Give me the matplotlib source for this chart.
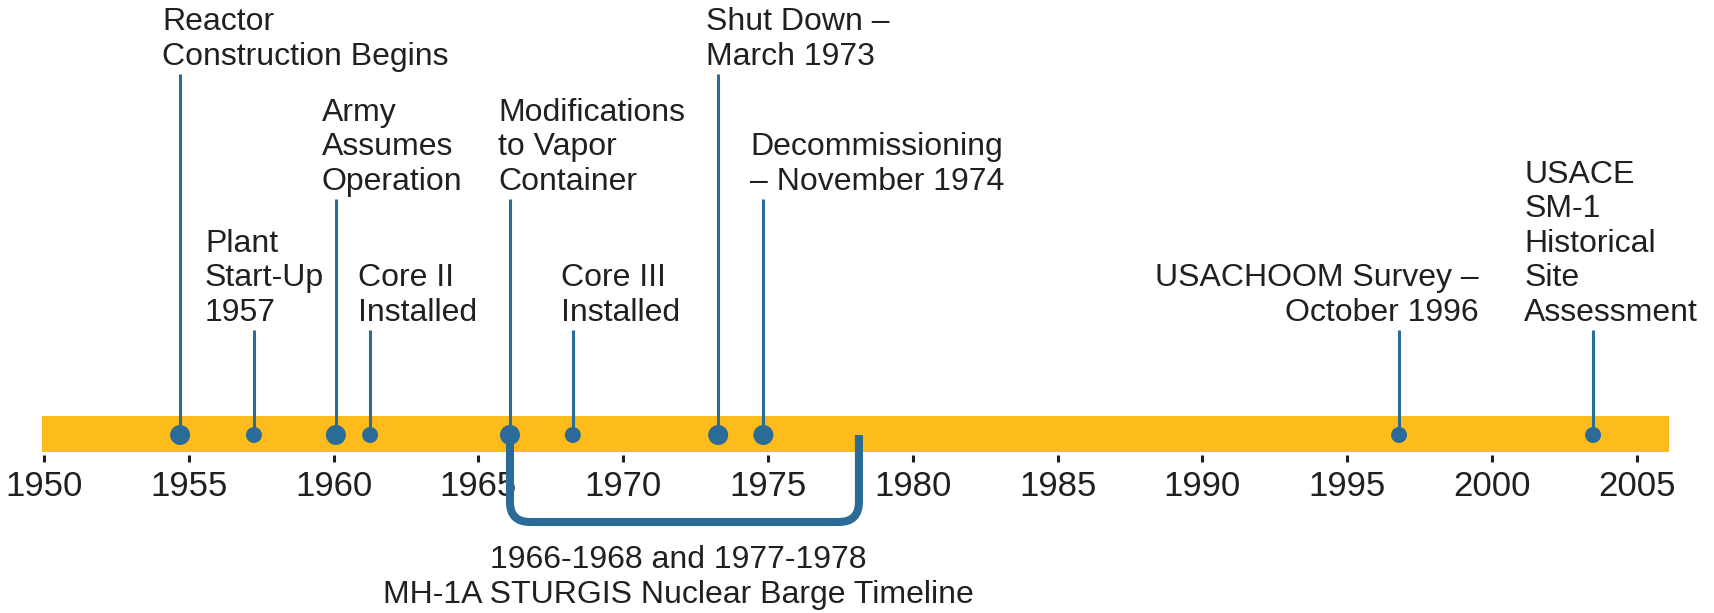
import matplotlib.pyplot as plt
from matplotlib.path import Path
from matplotlib.patches import PathPatch, Rectangle

plt.rcParams['font.family'] = ['Liberation Sans', 'DejaVu Sans']

# timeline events (decimal years)
event_years = [1954.70, 1957.25, 1960.08, 1961.26, 1966.09,
               1968.26, 1973.28, 1974.84, 1996.79, 2003.49]
event_labels = [
    'Reactor\nConstruction Begins',
    'Plant\nStart-Up\n1957',
    'Army\nAssumes\nOperation',
    'Core II\nInstalled',
    'Modifications\nto Vapor\nContainer',
    'Core III\nInstalled',
    'Shut Down \u2013\nMarch 1973',
    'Decommissioning\n\u2013 November 1974',
    'USACHOOM Survey \u2013\nOctober 1996',
    'USACE\nSM-1\nHistorical\nSite\nAssessment',
]
tick_years = list(range(1950, 2006, 5))

barge_start = 1966.09
barge_end = 1978.14
barge_label = '1966-1968 and 1977-1978\nMH-1A STURGIS Nuclear Barge Timeline'

# layout (pixels from top of figure, dpi=100)
stem_top = [74, 330, 199, 330, 199, 330, 74, 199, 330, 330]
big_dot = [True, False, True, False, True, False, True, True, False, False]
text_dx = [-18, -49, -14, -12, -12, -12, -12, -13, 80, -69]
text_ha = ['left'] * 8 + ['right', 'left']

yellow = '#fdbb1c'
blue = '#2b6b97'
ink = '#231f20'
dot_y = 435
px_per_year = 28.96

fig = plt.figure(figsize=(17.15, 6.13), dpi=100)
fig.patch.set_facecolor('white')
ax = fig.add_axes([0, (613 - 455) / 613, 1, 455 / 613])
x0 = 1950 - 44 / px_per_year
ax.set_xlim(x0, x0 + 1715 / px_per_year)
ax.set_ylim(455, 0)
for s in ax.spines.values():
    s.set_visible(False)
ax.set_yticks([])
ax.set_xticks(tick_years)
ax.set_xticklabels([str(y) for y in tick_years], fontsize=25, color=ink)
ax.tick_params(axis='x', length=5, width=2.2, color=ink, pad=6)

# yellow band
ax.add_patch(Rectangle((1949.92, 416), 2006.11 - 1949.92, 36,
                       facecolor=yellow, edgecolor='none', zorder=1))

# barge bracket below the band
r = 20
rx = r / px_per_year
yb = 522
verts = [(barge_start, dot_y), (barge_start, yb - r), (barge_start, yb),
         (barge_start + rx, yb), (barge_end - rx, yb), (barge_end, yb),
         (barge_end, yb - r), (barge_end, dot_y)]
codes = [Path.MOVETO, Path.LINETO, Path.CURVE3, Path.CURVE3, Path.LINETO,
         Path.CURVE3, Path.CURVE3, Path.LINETO]
ax.add_patch(PathPatch(Path(verts, codes), facecolor='none', edgecolor=blue,
                       lw=5.8, capstyle='butt', joinstyle='round',
                       clip_on=False, zorder=2))
ax.text((barge_start + barge_end) / 2 - 0.2, 545, barge_label, ha='center',
        va='top', fontsize=23, color=ink, linespacing=1.2, clip_on=False)

# stems, dots and labels
ax.vlines(event_years, stem_top, dot_y, color=blue, lw=2.2, zorder=3)
sizes = [207 if b else 132 for b in big_dot]
ax.scatter(event_years, [dot_y] * len(event_years), s=sizes, color=blue,
           edgecolor='none', zorder=4)

for yr, lab, top, dx, ha in zip(event_years, event_labels, stem_top, text_dx, text_ha):
    ax.annotate(lab, xy=(yr, top - 2), xytext=(dx * 0.72, 0),
                textcoords='offset points', ha=ha, va='bottom',
                fontsize=23, color=ink, linespacing=1.2,
                multialignment=ha, annotation_clip=False)

fig.savefig('out.png', dpi=100)
